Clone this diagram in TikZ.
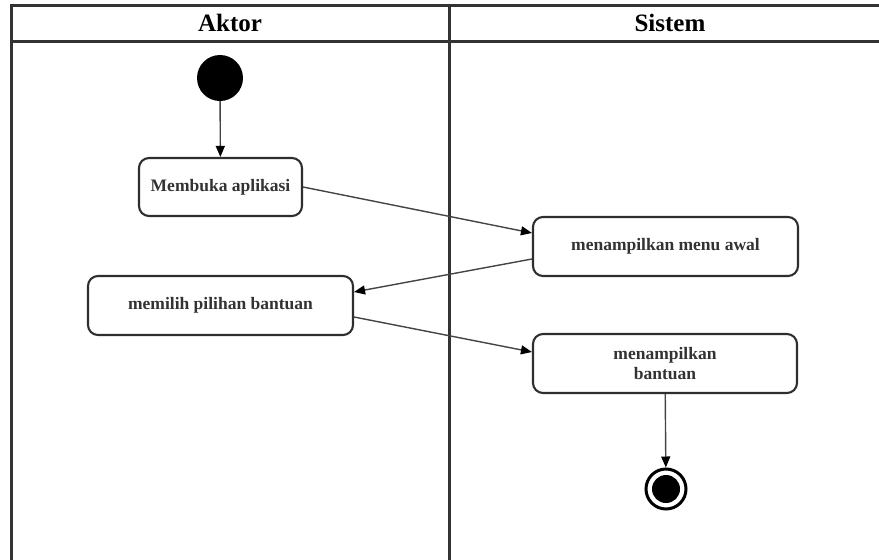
\documentclass[tikz,border=0pt]{standalone}
\usepackage{fontspec}
\setmainfont{Liberation Serif}
\usetikzlibrary{arrows.meta}
\definecolor{laneline}{HTML}{333333}
\definecolor{boxline}{HTML}{2E2E2E}
\definecolor{flowgray}{HTML}{444444}
\definecolor{textgray}{HTML}{333333}
\begin{document}
\begin{tikzpicture}[x=1pt,y=-1pt,
  lane/.style={draw=laneline,line width=3pt},
  action/.style={draw=boxline,line width=2.1pt,rounded corners=10pt,fill=white,
    align=center,font=\fontsize{17.5}{19.5}\selectfont\bfseries,text=textgray,inner sep=0pt},
  flow/.style={draw=flowgray,line width=1.4pt,
    -{Triangle[length=11pt,width=9pt,color=black]}},
  header/.style={font=\fontsize{25}{26}\selectfont\bfseries,text=black}]
\useasboundingbox (0,0) rectangle (879,560);

% swimlane frame
\draw[lane] (11,562) -- (11,5) -- (882,5);
\draw[lane] (11,41) -- (882,41);
\draw[lane] (449,5) -- (449,562);
\node[header] (hakt) at (230,23) {Aktor};
\node[header] (hsis) at (670,23) {Sistem};

% start and final states
\node[circle,fill=black,minimum size=46pt,inner sep=0pt] (start) at (220,78) {};
\node[circle,draw=black,line width=3pt,minimum size=40pt,inner sep=0pt] (final) at (666,489) {};
\node[circle,fill=black,minimum size=28pt,inner sep=0pt] (finalin) at (666,489) {};

% actions
\node[action,minimum width=163pt,minimum height=58pt] (open) at (220.5,187) {Membuka aplikasi};
\node[action,minimum width=265pt,minimum height=59pt] (menu) at (665.5,246.5) {menampilkan menu awal};
\node[action,minimum width=265pt,minimum height=59pt] (pick) at (220.5,305.5) {memilih pilihan bantuan};
\node[action,minimum width=264pt,minimum height=59pt] (help) at (665,363.5) {menampilkan\\bantuan};

% control flow
\draw[flow] (start) -- (open);
\draw[flow] (open.east) -- ([yshift=13.5pt]menu.west);
\draw[flow] ([yshift=-12.5pt]menu.west) -- ([yshift=13.5pt]pick.east);
\draw[flow] ([yshift=-11.5pt]pick.east) -- ([yshift=11.5pt]help.west);
\draw[flow] (help) -- (final);
\end{tikzpicture}
\end{document}
